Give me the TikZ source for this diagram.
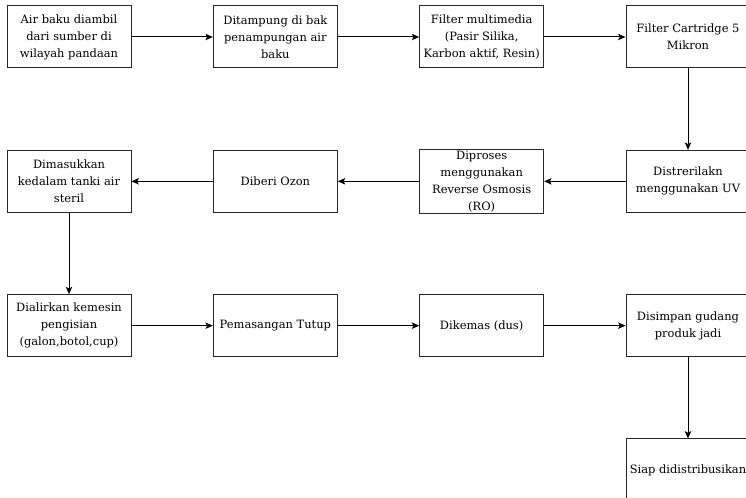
\documentclass[tikz,border=0pt]{standalone}
\usepackage{fontspec}
\setmainfont{DejaVu Serif}
\usetikzlibrary{positioning, arrows.meta}
\begin{document}
\begin{tikzpicture}[x=0.75pt, y=0.75pt]
    \tikzset{
      node distance=61pt,
      proc/.style={draw=black!85, line width=0.75pt, minimum width=93pt, minimum height=46.5pt,
        inner sep=1pt, align=center, font=\fontsize{8.6}{12.75}\selectfont},
      flow/.style={-{Stealth[length=5.5pt, width=4.8pt, inset=1.2pt]}, line width=0.75pt}
    }
    \useasboundingbox (0,0) rectangle (746,-498);

    % first row, left to right
    \node[proc] (ambil) at (69,-37) {Air baku diambil\\dari sumber di\\wilayah pandaan};
    \node[proc, right=of ambil] (tampung) {Ditampung di bak\\penampungan air\\baku};
    \node[proc, right=of tampung] (multi) {Filter multimedia\\(Pasir Silika,\\Karbon aktif, Resin)};
    \node[proc, right=of multi] (cartridge) {Filter Cartridge 5\\Mikron};

    % second row, right to left
    \node[proc, below=of cartridge] (uv) {Distrerilakn\\menggunakan UV};
    \node[proc, left=of uv] (ro) {Diproses\\menggunakan\\Reverse Osmosis\\(RO)};
    \node[proc, left=of ro] (ozon) {Diberi Ozon};
    \node[proc, left=of ozon] (tanki) {Dimasukkan\\kedalam tanki air\\steril};

    % third row, left to right
    \node[proc, below=of tanki] (isi) {Dialirkan kemesin\\pengisian\\(galon,botol,cup)};
    \node[proc, right=of isi] (tutup) {Pemasangan Tutup};
    \node[proc, right=of tutup] (kemas) {Dikemas (dus)};
    \node[proc, right=of kemas] (gudang) {Disimpan gudang\\produk jadi};

    \node[proc, below=of gudang] (siap) {Siap didistribusikan};

    \draw[flow] (ambil) -- (tampung);
    \draw[flow] (tampung) -- (multi);
    \draw[flow] (multi) -- (cartridge);
    \draw[flow] (cartridge) -- (uv);
    \draw[flow] (uv) -- (ro);
    \draw[flow] (ro) -- (ozon);
    \draw[flow] (ozon) -- (tanki);
    \draw[flow] (tanki) -- (isi);
    \draw[flow] (isi) -- (tutup);
    \draw[flow] (tutup) -- (kemas);
    \draw[flow] (kemas) -- (gudang);
    \draw[flow] (gudang) -- (siap);
  \end{tikzpicture}
\end{document}
